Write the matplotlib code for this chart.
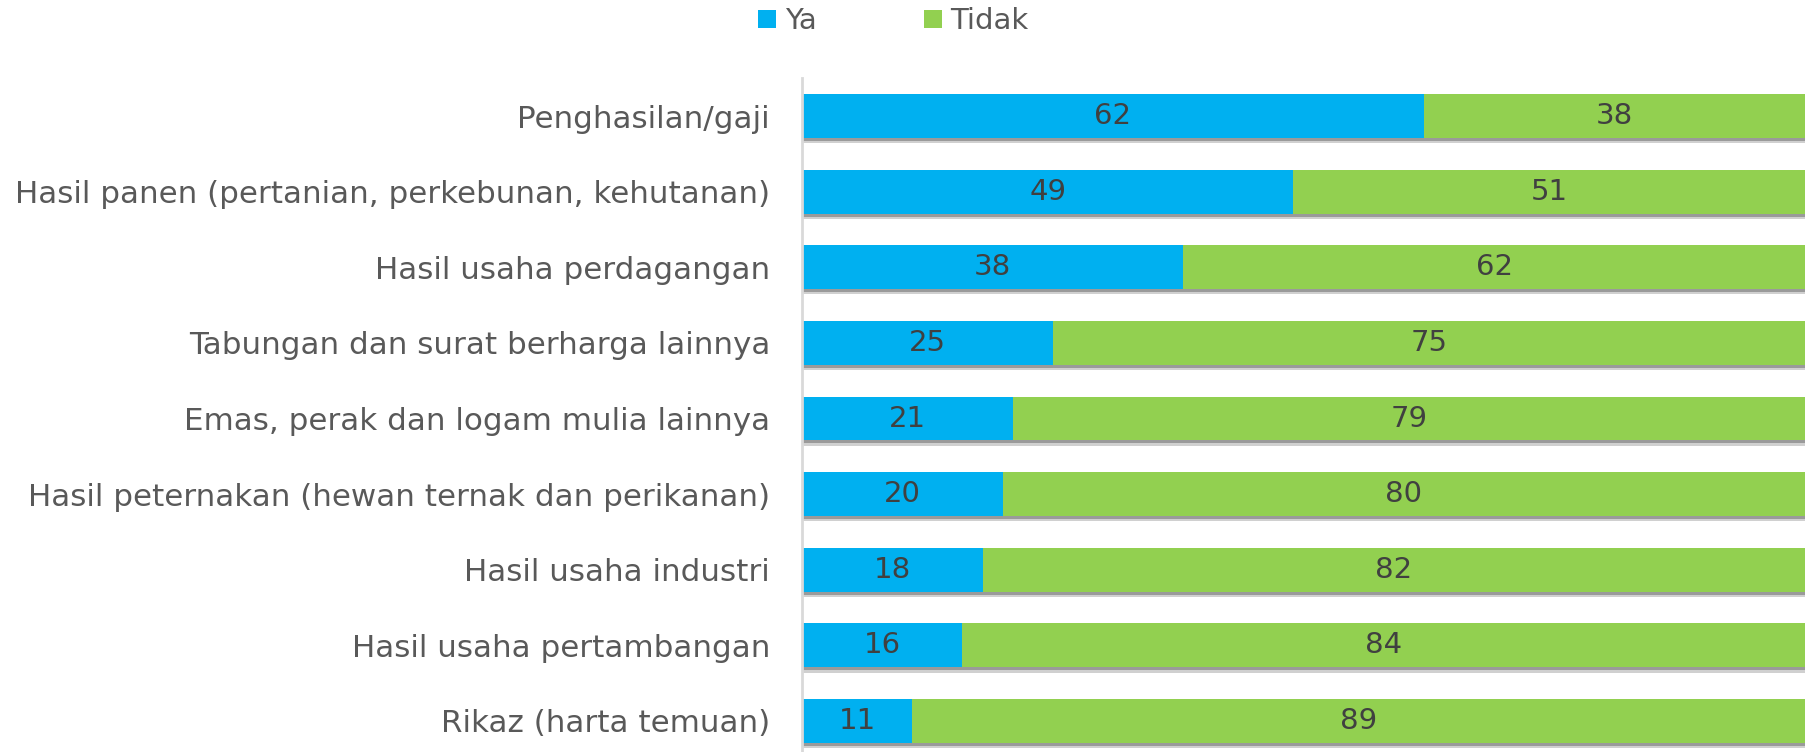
import matplotlib.pyplot as plt
import numpy as np

categories = [
    "Penghasilan/gaji",
    "Hasil panen (pertanian, perkebunan, kehutanan)",
    "Hasil usaha perdagangan",
    "Tabungan dan surat berharga lainnya",
    "Emas, perak dan logam mulia lainnya",
    "Hasil peternakan (hewan ternak dan perikanan)",
    "Hasil usaha industri",
    "Hasil usaha pertambangan",
    "Rikaz (harta temuan)",
]
ya = [62, 49, 38, 25, 21, 20, 18, 16, 11]
tidak = [38, 51, 62, 75, 79, 80, 82, 84, 89]

BLUE = "#00b0f0"
GREEN = "#92d050"
TEXT = "#595959"

plt.rcParams["font.family"] = ["DejaVu Sans"]

fig = plt.figure(figsize=(18.05, 7.52), dpi=100)
ax = fig.add_axes([0.4443, 0.0, 0.5557, 0.896])

y = np.arange(len(categories))
h = 0.58
ya = np.array(ya)
tidak = np.array(tidak)

# soft shadow under each bar
ax.barh(y + 0.07, ya + tidak, height=h, color="#d0d0d0", zorder=1)
ax.barh(y + 0.04, ya + tidak, height=h, color="#9a9a9a", zorder=1)
b1 = ax.barh(y, ya, height=h, color=BLUE, label="Ya", zorder=2)
b2 = ax.barh(y, tidak, left=ya, height=h, color=GREEN, label="Tidak", zorder=2)

for bars, vals in ((b1, ya), (b2, tidak)):
    ax.bar_label(bars, labels=[str(v) for v in vals], label_type="center",
                 fontsize=21, color="#404040")

ax.set_xlim(0, 100)
ax.set_ylim(8.41, -0.5)
ax.set_yticks(y)
ax.set_yticklabels(categories, fontsize=22.3, color=TEXT)
ax.tick_params(axis="y", length=0, pad=23)
ax.set_xticks([])
for s in ("top", "right", "bottom"):
    ax.spines[s].set_visible(False)
ax.spines["left"].set_color("#d9d9d9")
ax.spines["left"].set_linewidth(2)

fig.legend(handles=[b1, b2], loc="center", bbox_to_anchor=(0.495, 0.972),
           ncol=2, frameon=False, fontsize=21, labelcolor=TEXT,
           handlelength=0.6, handleheight=0.6, handletextpad=0.3,
           columnspacing=3.7)

fig.savefig("out.png", dpi=100)
